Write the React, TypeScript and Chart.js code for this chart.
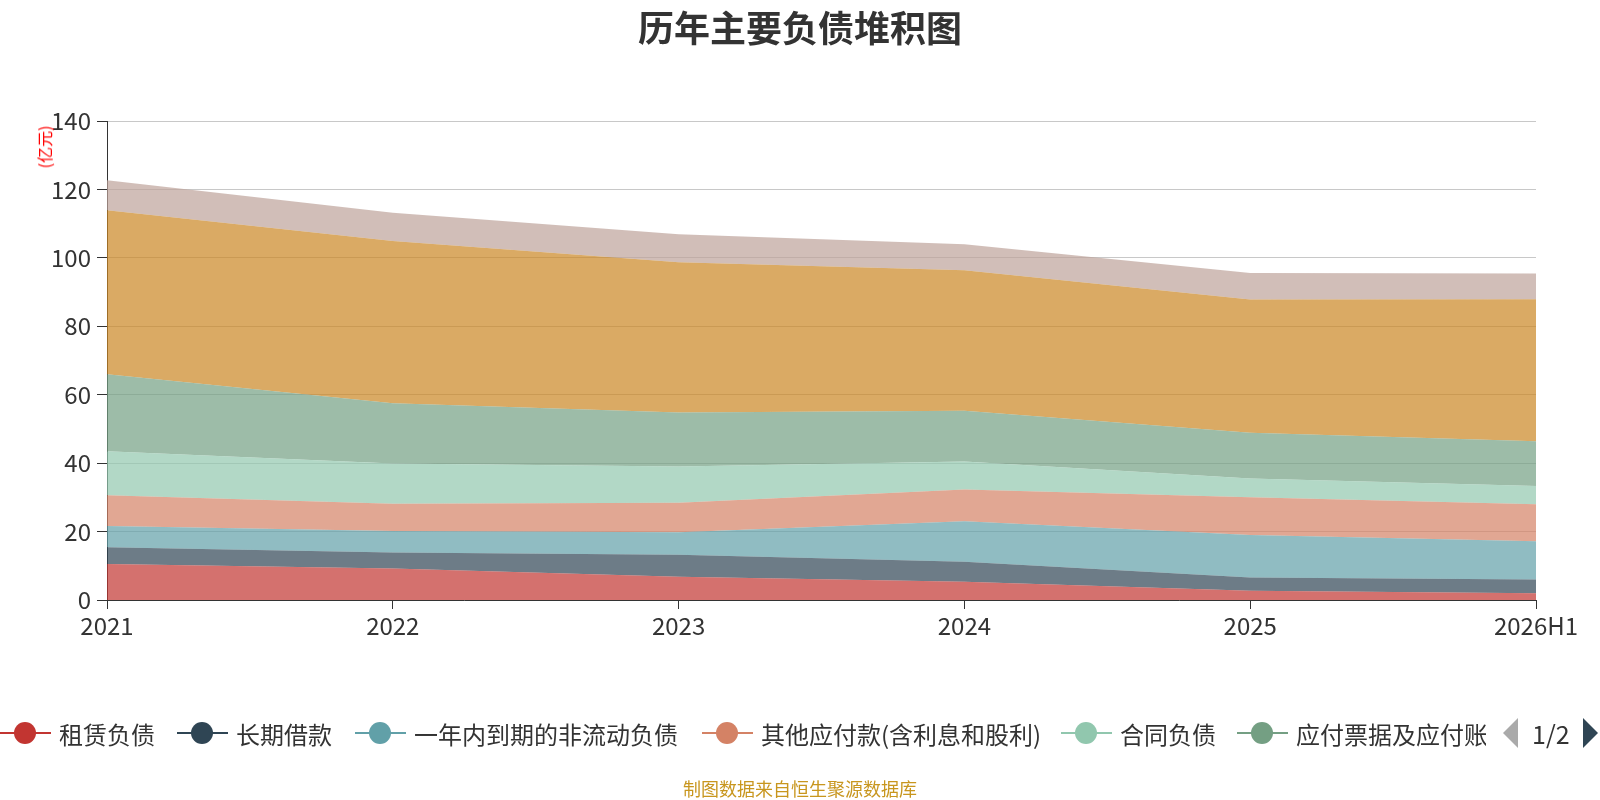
import React, { useEffect, useRef } from "react";
import { Chart, registerables } from "chart.js";

Chart.register(...registerables);

const categories = ["2021", "2022", "2023", "2024", "2025", "2026H1"];
const seriesNames = [
  "租赁负债",
  "长期借款",
  "一年内到期的非流动负债",
  "其他应付款(含利息和股利)",
  "合同负债",
  "应付票据及应付账款",
  "短期借款",
  "应付债券",
];
const leaseLiabilities = [10.5, 9.2, 6.8, 5.3, 2.7, 2.0];
const longTermLoans = [4.9, 4.7, 6.4, 5.9, 3.9, 4.0];
const currentNonCurrentLiab = [6.2, 6.3, 6.6, 11.8, 12.4, 11.2];
const otherPayables = [9.0, 7.9, 8.6, 9.3, 11.0, 10.8];
const contractLiabilities = [12.9, 11.8, 10.6, 8.2, 5.5, 5.3];
const notesAccountsPayable = [22.5, 17.6, 15.8, 14.8, 13.4, 13.1];
const seventhSeries = [47.9, 47.4, 43.9, 41.1, 38.9, 41.5];
const eighthSeries = [8.8, 8.3, 8.2, 7.6, 7.8, 7.5];
const yTicks = [0, 20, 40, 60, 80, 100, 120, 140];

const seriesValues = [
  leaseLiabilities,
  longTermLoans,
  currentNonCurrentLiab,
  otherPayables,
  contractLiabilities,
  notesAccountsPayable,
  seventhSeries,
  eighthSeries,
];
const colors = ["#c23531", "#2f4554", "#61a0a8", "#d48265", "#91c7ae", "#749f83", "#ca8622", "#bda29a"];

function hexA(hex: string, a: number) {
  const r = parseInt(hex.slice(1, 3), 16);
  const g = parseInt(hex.slice(3, 5), 16);
  const b = parseInt(hex.slice(5, 7), 16);
  return `rgba(${r},${g},${b},${a})`;
}

const FONT = "'Noto Sans CJK SC', 'Noto Sans', sans-serif";
const legendX = [0, 177, 355, 702, 1061, 1237];

export default function App() {
  const ref = useRef<HTMLCanvasElement | null>(null);

  useEffect(() => {
    document.body.style.margin = "0";
    const ctx = ref.current!;
    const chart = new Chart(ctx, {
      type: "line",
      data: {
        labels: categories,
        datasets: seriesValues.map((vals, i) => ({
          label: seriesNames[i],
          data: vals,
          borderColor: hexA(colors[i], 0.7),
          backgroundColor: hexA(colors[i], 0.7),
          borderWidth: 0,
          pointRadius: 0,
          tension: 0,
          fill: i === 0 ? "origin" : "-1",
        })),
      },
      options: {
        responsive: false,
        animation: false,
        devicePixelRatio: 1,
        layout: { padding: { left: 0, right: 64, top: 121, bottom: 155 } },
        plugins: {
          legend: { display: false },
          title: { display: false },
          tooltip: { enabled: false },
        },
        scales: {
          x: {
            offset: false,
            grid: { drawOnChartArea: false, drawTicks: true, tickLength: 9, tickColor: "#333" },
            border: { color: "#333", width: 1 },
            ticks: { color: "#333", font: { size: 24, family: FONT }, padding: 2, maxRotation: 0, autoSkip: false },
            afterFit: (s: any) => {
              s.height = 45;
            },
          },
          y: {
            stacked: true,
            min: 0,
            max: 140,
            afterBuildTicks: (s: any) => {
              s.ticks = yTicks.map((v) => ({ value: v }));
            },
            grid: { color: "#c8c8c8", lineWidth: 1, tickLength: 10, tickColor: "#333" },
            border: { color: "#333", width: 1 },
            ticks: { color: "#333", font: { size: 24, family: FONT }, padding: 6 },
            afterFit: (s: any) => {
              s.width = 107;
            },
          },
        },
      },
    });
    return () => chart.destroy();
  }, []);

  return (
    <div style={{ position: "fixed", left: 0, top: 0, width: 1600, height: 800, background: "#fff", fontFamily: FONT, overflow: "hidden" }}>
      <canvas ref={ref} width={1600} height={800} style={{ position: "absolute", left: 0, top: 0, width: 1600, height: 800 }} />
      <div style={{ position: "absolute", left: 0, width: 1600, top: 1, textAlign: "center", fontSize: 36, fontWeight: "bold", color: "#333", lineHeight: "50px" }}>
        历年主要负债堆积图
      </div>
      <div
        style={{
          position: "absolute",
          left: 44,
          top: 147,
          transform: "translate(-50%, -50%) rotate(-90deg)",
          color: "#ff0000",
          fontSize: 16,
          whiteSpace: "nowrap",
          lineHeight: "18px",
        }}
      >
        (亿元)
      </div>
      <div style={{ position: "absolute", left: 0, top: 715, width: 1486, height: 36, overflow: "hidden" }}>
        {seriesNames.slice(0, 6).map((name, i) => (
          <div key={name} style={{ position: "absolute", left: legendX[i], top: 0, height: 36, display: "flex", alignItems: "center", whiteSpace: "nowrap" }}>
            <div style={{ position: "relative", width: 51, height: 36 }}>
              <div style={{ position: "absolute", left: 0, top: 17, width: 51, height: 2, background: colors[i] }} />
              <div style={{ position: "absolute", left: 14, top: 7, width: 22, height: 22, borderRadius: 11, background: colors[i] }} />
            </div>
            <span style={{ marginLeft: 8, fontSize: 24, color: "#333" }}>{name}</span>
          </div>
        ))}
      </div>
      <div style={{ position: "absolute", left: 1503, top: 718, width: 0, height: 0, borderTop: "15px solid transparent", borderBottom: "15px solid transparent", borderRight: "15px solid #aaaaaa" }} />
      <div style={{ position: "absolute", left: 1532, top: 715, fontSize: 25, color: "#333", lineHeight: "36px" }}>1/2</div>
      <div style={{ position: "absolute", left: 1583, top: 718, width: 0, height: 0, borderTop: "15px solid transparent", borderBottom: "15px solid transparent", borderLeft: "15px solid #2f4554" }} />
      <div style={{ position: "absolute", left: 0, width: 1600, top: 775, textAlign: "center", fontSize: 18, color: "#c8961e", lineHeight: "26px" }}>
        制图数据来自恒生聚源数据库
      </div>
    </div>
  );
}
